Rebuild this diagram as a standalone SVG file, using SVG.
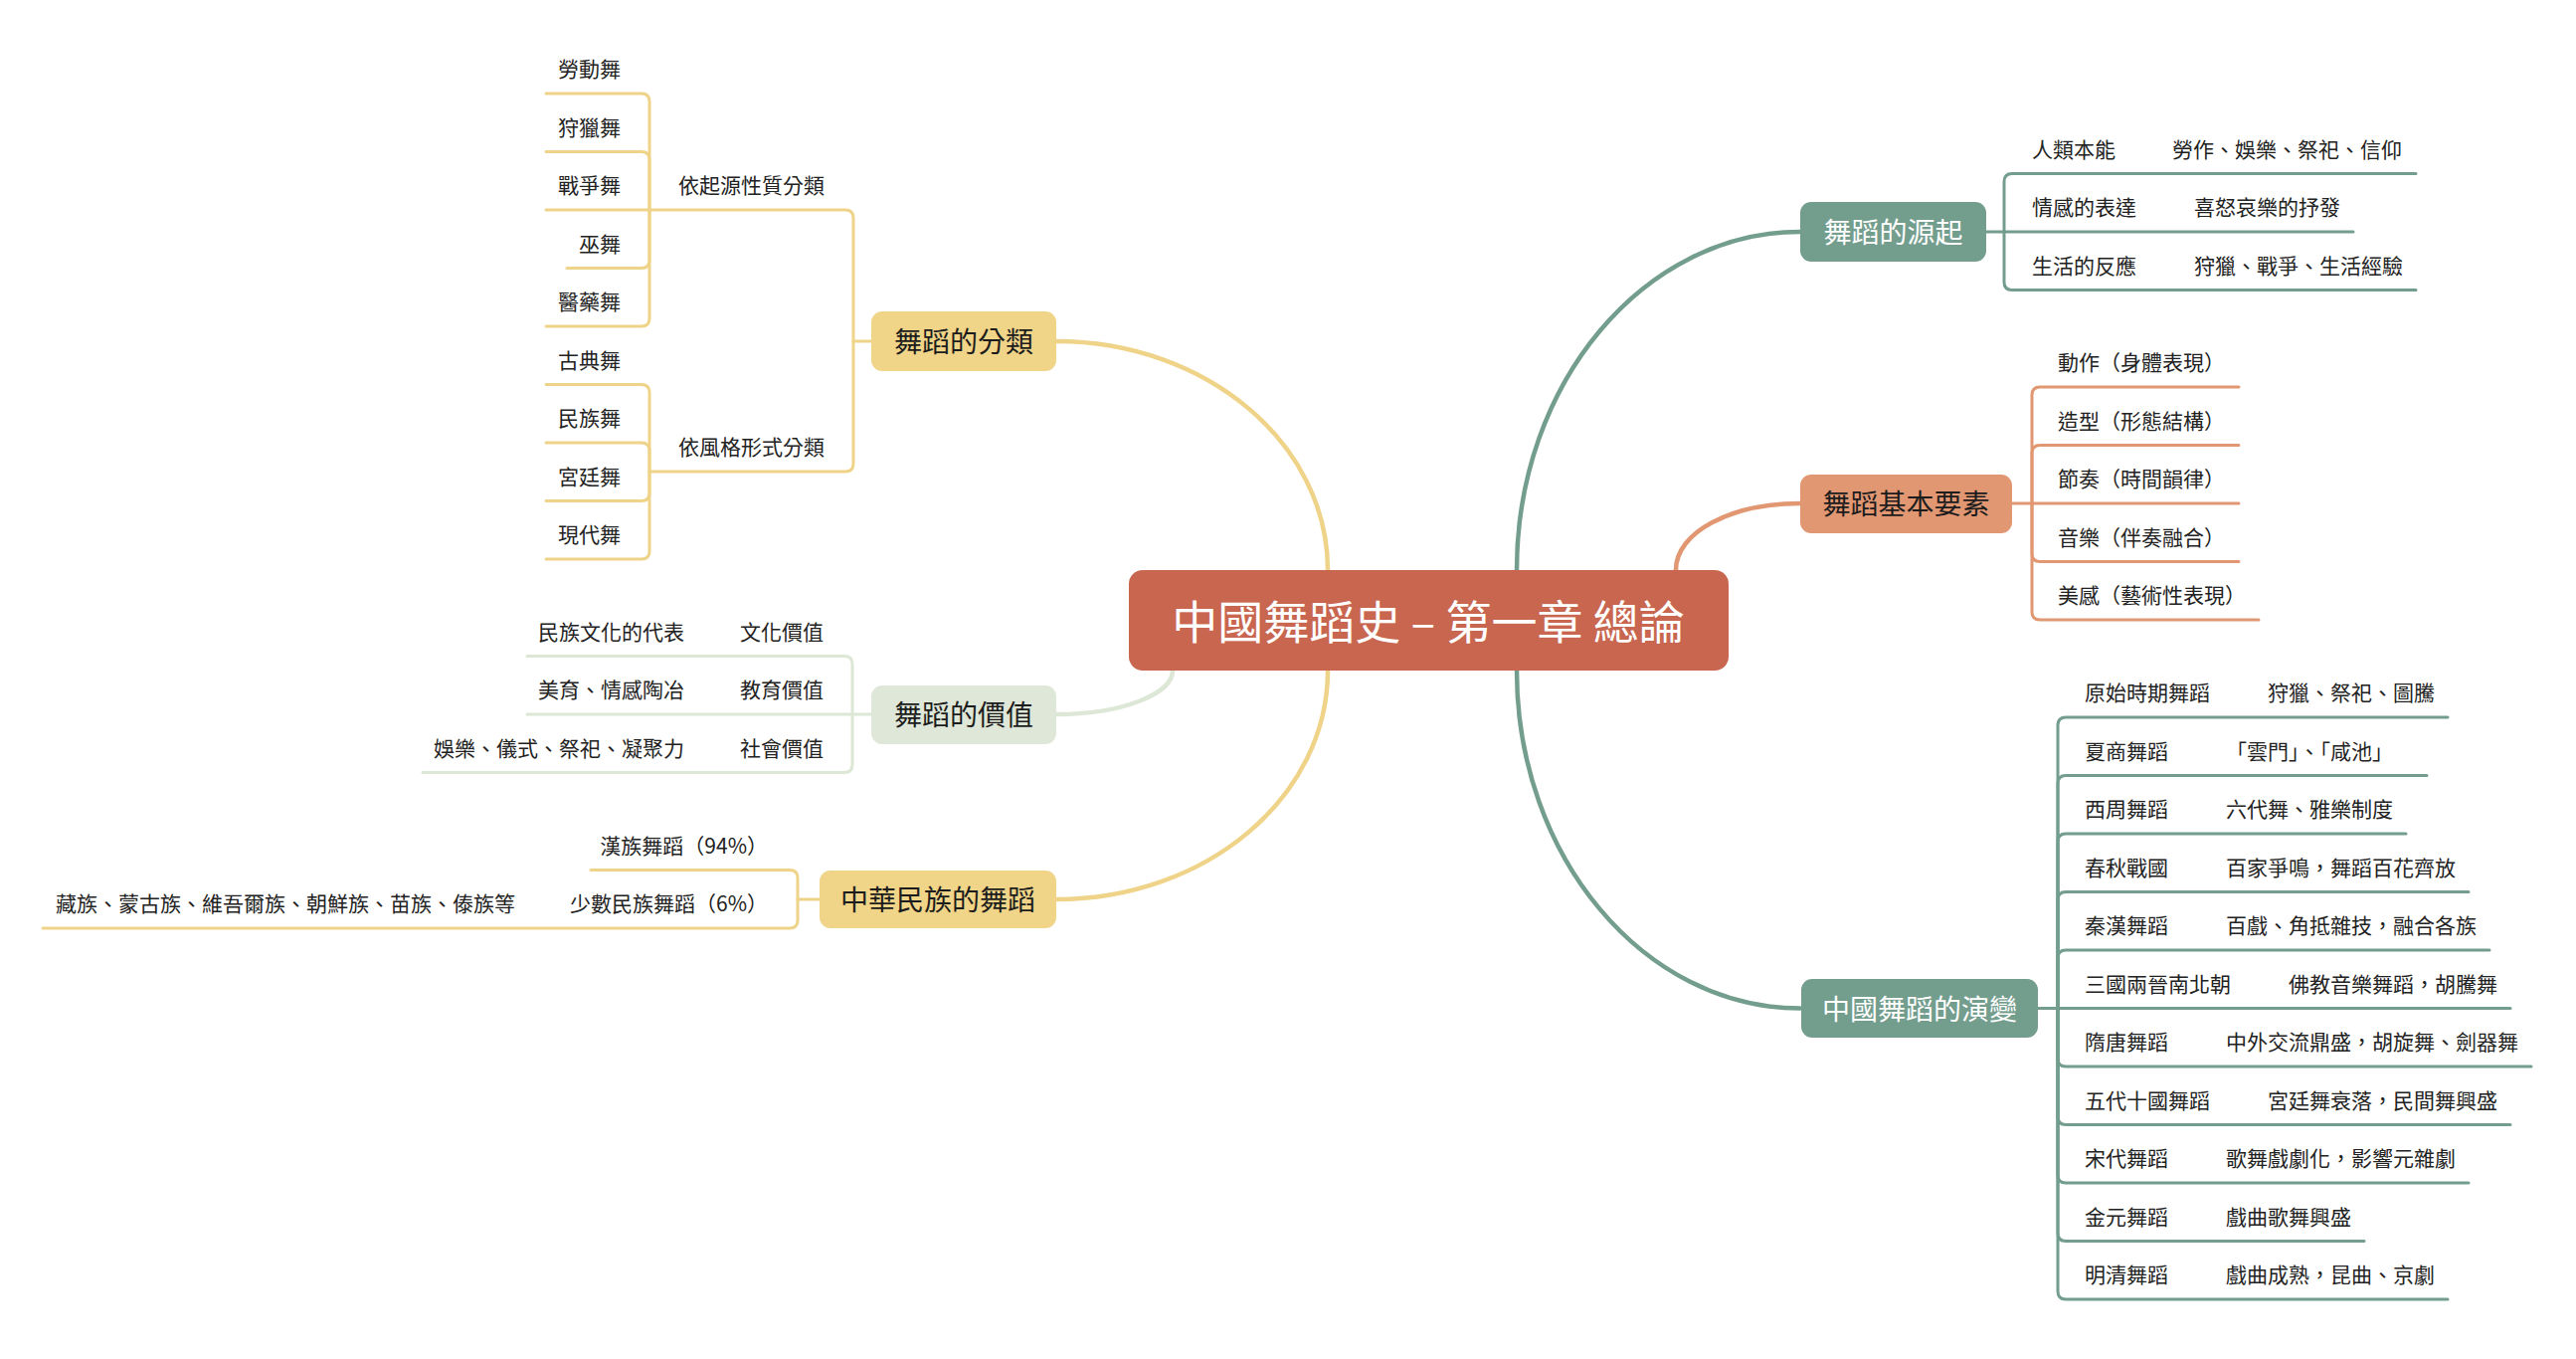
<svg xmlns="http://www.w3.org/2000/svg" width="2590" height="1366" viewBox="0 0 2590 1366">
<style>
  text { font-family: "Noto Sans CJK TC", "Noto Sans CJK SC", sans-serif; }
  .leaf { font-size: 21px; fill: #222222; }
  .end { text-anchor: end; }
  .branch { font-size: 28px; text-anchor: middle; }
  .dark { fill: #1c1c1c; }
  .light { fill: #ffffff; }
  .root { font-size: 46px; text-anchor: middle; fill: #ffffff; }
  .c { fill: none; stroke-linecap: round; stroke-linejoin: round; }
  .main { stroke-width: 4.5; }
  .sub { stroke-width: 3; }
  .y { stroke: #efd388; }
  .g { stroke: #dde7d5; }
  .t { stroke: #739d8d; }
  .o { stroke: #e29773; }
</style>
<rect width="2590" height="1366" fill="#ffffff"/>

<g id="connectors">
  <!-- main curves -->
  <path class="c main y" d="M1062,343 C1213,343 1335,446 1335,573"/>
  <path class="c main g" d="M1062,718 C1127,718 1179,698 1179,674"/>
  <path class="c main y" d="M1062,904 C1213,904 1335,801 1335,674"/>
  <path class="c main t" d="M1525,573 C1525,385 1653,233 1810,233"/>
  <path class="c main o" d="M1685,573 C1685,535 1740,506 1810,506"/>
  <path class="c main t" d="M1525,674 C1525,861 1653,1013.5 1810,1013.5"/>

  <!-- 舞蹈的分類 -->
  <path class="c sub y" d="M876,343 L858,343"/>
  <path class="c sub y" d="M858,343 L858,219 Q858,211 850,211 L653,211"/>
  <path class="c sub y" d="M858,343 L858,466 Q858,474 850,474 L653,474"/>
  <path class="c sub y" d="M653,211 L653,102 Q653,94 645,94 L549,94"/>
  <path class="c sub y" d="M653,211 L653,160.5 Q653,152.5 645,152.5 L549,152.5"/>
  <path class="c sub y" d="M653,211 L549,211"/>
  <path class="c sub y" d="M653,211 L653,261.5 Q653,269.5 645,269.5 L570,269.5"/>
  <path class="c sub y" d="M653,211 L653,320 Q653,328 645,328 L549,328"/>
  <path class="c sub y" d="M653,474 L653,394.5 Q653,386.5 645,386.5 L549,386.5"/>
  <path class="c sub y" d="M653,474 L653,453 Q653,445 645,445 L549,445"/>
  <path class="c sub y" d="M653,474 L653,495.5 Q653,503.5 645,503.5 L549,503.5"/>
  <path class="c sub y" d="M653,474 L653,554 Q653,562 645,562 L549,562"/>

  <!-- 舞蹈的價值 -->
  <path class="c sub g" d="M876,718 L857,718"/>
  <path class="c sub g" d="M857,718 L857,667.5 Q857,659.5 849,659.5 L530,659.5"/>
  <path class="c sub g" d="M857,718 L530,718"/>
  <path class="c sub g" d="M857,718 L857,768.5 Q857,776.5 849,776.5 L425,776.5"/>

  <!-- 中華民族的舞蹈 -->
  <path class="c sub y" d="M824,904 L802,904"/>
  <path class="c sub y" d="M802,904 L802,882.5 Q802,874.5 794,874.5 L594,874.5"/>
  <path class="c sub y" d="M802,904 L802,925 Q802,933 794,933 L43,933"/>

  <!-- 舞蹈的源起 -->
  <path class="c sub t" d="M1997,233 L2015,233"/>
  <path class="c sub t" d="M2015,233 L2015,182.5 Q2015,174.5 2023,174.5 L2429,174.5"/>
  <path class="c sub t" d="M2015,233 L2366,233"/>
  <path class="c sub t" d="M2015,233 L2015,283.5 Q2015,291.5 2023,291.5 L2429,291.5"/>

  <!-- 舞蹈基本要素 -->
  <path class="c sub o" d="M2023,506 L2043,506"/>
  <path class="c sub o" d="M2043,506 L2043,397 Q2043,389 2051,389 L2251,389"/>
  <path class="c sub o" d="M2043,506 L2043,455.5 Q2043,447.5 2051,447.5 L2251,447.5"/>
  <path class="c sub o" d="M2043,506 L2251,506"/>
  <path class="c sub o" d="M2043,506 L2043,556.5 Q2043,564.5 2051,564.5 L2251,564.5"/>
  <path class="c sub o" d="M2043,506 L2043,615 Q2043,623 2051,623 L2271,623"/>

  <!-- 中國舞蹈的演變 -->
  <path class="c sub t" d="M2049,1013.5 L2069,1013.5"/>
  <path class="c sub t" d="M2069,1013.5 L2069,729 Q2069,721 2077,721 L2461,721"/>
  <path class="c sub t" d="M2069,1013.5 L2069,787.5 Q2069,779.5 2077,779.5 L2440,779.5"/>
  <path class="c sub t" d="M2069,1013.5 L2069,846 Q2069,838 2077,838 L2419,838"/>
  <path class="c sub t" d="M2069,1013.5 L2069,904.5 Q2069,896.5 2077,896.5 L2482,896.5"/>
  <path class="c sub t" d="M2069,1013.5 L2069,963 Q2069,955 2077,955 L2503,955"/>
  <path class="c sub t" d="M2069,1013.5 L2524,1013.5"/>
  <path class="c sub t" d="M2069,1013.5 L2069,1064 Q2069,1072 2077,1072 L2545,1072"/>
  <path class="c sub t" d="M2069,1013.5 L2069,1122.5 Q2069,1130.5 2077,1130.5 L2524,1130.5"/>
  <path class="c sub t" d="M2069,1013.5 L2069,1181 Q2069,1189 2077,1189 L2482,1189"/>
  <path class="c sub t" d="M2069,1013.5 L2069,1239.5 Q2069,1247.5 2077,1247.5 L2377,1247.5"/>
  <path class="c sub t" d="M2069,1013.5 L2069,1298 Q2069,1306 2077,1306 L2461,1306"/>
</g>

<g id="root">
  <rect x="1135" y="573" width="603" height="101" rx="14" fill="#c8664f"/>
  <text class="root" x="1436" y="642">中國舞蹈史 – 第一章 總論</text>
</g>

<g id="n-classify">
  <rect x="876" y="313" width="186" height="60" rx="11" fill="#f0d488"/>
  <text class="branch dark" x="969" y="354">舞蹈的分類</text>
  <g id="n-origin-type">
    <text class="leaf end" x="829" y="194">依起源性質分類</text>
    <text class="leaf end" x="624" y="77">勞動舞</text>
    <text class="leaf end" x="624" y="135.5">狩獵舞</text>
    <text class="leaf end" x="624" y="194">戰爭舞</text>
    <text class="leaf end" x="624" y="252.5">巫舞</text>
    <text class="leaf end" x="624" y="311">醫藥舞</text>
  </g>
  <g id="n-style-type">
    <text class="leaf end" x="829" y="457">依風格形式分類</text>
    <text class="leaf end" x="624" y="369.5">古典舞</text>
    <text class="leaf end" x="624" y="428">民族舞</text>
    <text class="leaf end" x="624" y="486.5">宮廷舞</text>
    <text class="leaf end" x="624" y="545">現代舞</text>
  </g>
</g>

<g id="n-value">
  <rect x="876" y="689" width="186" height="59" rx="11" fill="#dfe8d8"/>
  <text class="branch dark" x="969" y="729">舞蹈的價值</text>
  <text class="leaf end" x="828" y="642.5">文化價值</text>
  <text class="leaf end" x="688" y="642.5">民族文化的代表</text>
  <text class="leaf end" x="828" y="701">教育價值</text>
  <text class="leaf end" x="688" y="701">美育、情感陶冶</text>
  <text class="leaf end" x="828" y="759.5">社會價值</text>
  <text class="leaf end" x="688" y="759.5">娛樂、儀式、祭祀、凝聚力</text>
</g>

<g id="n-nation">
  <rect x="824" y="875" width="238" height="58" rx="11" fill="#f0d488"/>
  <text class="branch dark" x="943" y="915">中華民族的舞蹈</text>
  <text class="leaf end" x="772" y="857.5">漢族舞蹈（94%）</text>
  <text class="leaf end" x="772" y="916">少數民族舞蹈（6%）</text>
  <text class="leaf end" x="518" y="916">藏族、蒙古族、維吾爾族、朝鮮族、苗族、傣族等</text>
</g>

<g id="n-origin">
  <rect x="1810" y="203" width="187" height="60" rx="11" fill="#739d8d"/>
  <text class="branch light" x="1903.5" y="244">舞蹈的源起</text>
  <text class="leaf" x="2043" y="157.5">人類本能</text>
  <text class="leaf" x="2184" y="157.5">勞作、娛樂、祭祀、信仰</text>
  <text class="leaf" x="2043" y="216">情感的表達</text>
  <text class="leaf" x="2206" y="216">喜怒哀樂的抒發</text>
  <text class="leaf" x="2043" y="274.5">生活的反應</text>
  <text class="leaf" x="2206" y="274.5">狩獵、戰爭、生活經驗</text>
</g>

<g id="n-elements">
  <rect x="1810" y="477" width="213" height="59" rx="11" fill="#e29773"/>
  <text class="branch dark" x="1916.5" y="517">舞蹈基本要素</text>
  <text class="leaf" x="2069" y="372">動作（身體表現）</text>
  <text class="leaf" x="2069" y="430.5">造型（形態結構）</text>
  <text class="leaf" x="2069" y="489">節奏（時間韻律）</text>
  <text class="leaf" x="2069" y="547.5">音樂（伴奏融合）</text>
  <text class="leaf" x="2069" y="606">美感（藝術性表現）</text>
</g>

<g id="n-evolution">
  <rect x="1811" y="984" width="238" height="59" rx="11" fill="#739d8d"/>
  <text class="branch light" x="1930" y="1024.5">中國舞蹈的演變</text>
  <text class="leaf" x="2096" y="704">原始時期舞蹈</text>
  <text class="leaf" x="2280" y="704">狩獵、祭祀、圖騰</text>
  <text class="leaf" x="2096" y="762.5">夏商舞蹈</text>
  <text class="leaf" x="2238" y="762.5">「雲門」、「咸池」</text>
  <text class="leaf" x="2096" y="821">西周舞蹈</text>
  <text class="leaf" x="2238" y="821">六代舞、雅樂制度</text>
  <text class="leaf" x="2096" y="879.5">春秋戰國</text>
  <text class="leaf" x="2238" y="879.5">百家爭鳴，舞蹈百花齊放</text>
  <text class="leaf" x="2096" y="938">秦漢舞蹈</text>
  <text class="leaf" x="2238" y="938">百戲、角抵雜技，融合各族</text>
  <text class="leaf" x="2096" y="996.5">三國兩晉南北朝</text>
  <text class="leaf" x="2301" y="996.5">佛教音樂舞蹈，胡騰舞</text>
  <text class="leaf" x="2096" y="1055">隋唐舞蹈</text>
  <text class="leaf" x="2238" y="1055">中外交流鼎盛，胡旋舞、劍器舞</text>
  <text class="leaf" x="2096" y="1113.5">五代十國舞蹈</text>
  <text class="leaf" x="2280" y="1113.5">宮廷舞衰落，民間舞興盛</text>
  <text class="leaf" x="2096" y="1172">宋代舞蹈</text>
  <text class="leaf" x="2238" y="1172">歌舞戲劇化，影響元雜劇</text>
  <text class="leaf" x="2096" y="1230.5">金元舞蹈</text>
  <text class="leaf" x="2238" y="1230.5">戲曲歌舞興盛</text>
  <text class="leaf" x="2096" y="1289">明清舞蹈</text>
  <text class="leaf" x="2238" y="1289">戲曲成熟，昆曲、京劇</text>
</g>
</svg>
